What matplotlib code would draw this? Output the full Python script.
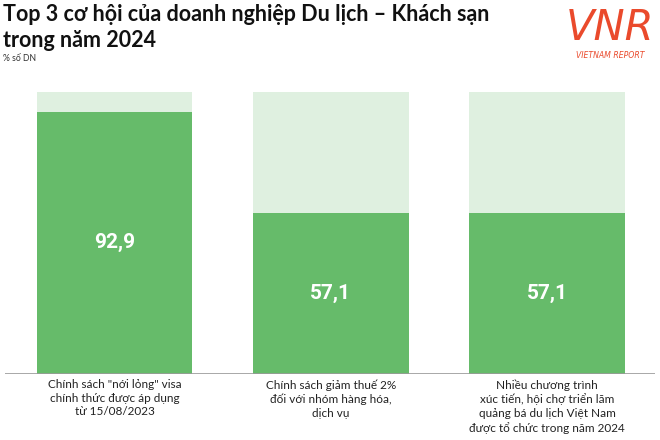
import matplotlib.pyplot as plt

# data
categories = [
    'Chính sách "nới lỏng" visa\nchính thức được áp dụng\ntừ 15/08/2023',
    'Chính sách giảm thuế 2%\nđối với nhóm hàng hóa,\ndịch vụ',
    'Nhiều chương trình\nxúc tiến, hội chợ triển lãm\nquảng bá du lịch Việt Nam\nđược tổ chức trong năm 2024',
]
values = [92.9, 57.1, 57.1]
value_labels = ["92,9", "57,1", "57,1"]
full = [100, 100, 100]

green = "#66bb6a"
light = "#dff0e0"

fig = plt.figure(figsize=(6.6, 4.4), dpi=100)
W, H = 660, 440

# axes placed in pixel terms: x 5..655, y 91.7..374
ax = fig.add_axes([5 / W, (H - 374) / H, 650 / W, (374 - 91.7) / H])
x = range(len(values))
ax.bar(x, full, width=0.719, color=light, zorder=1)
ax.bar(x, values, width=0.719, color=green, zorder=2)
ax.set_xlim(-0.506, 2.499)
ax.set_ylim(0, 100)
ax.axhline(0, color="#9a9a9a", lw=1.2, zorder=3)
for s in ax.spines.values():
    s.set_visible(False)
ax.set_xticks([])
ax.set_yticks([])

for i, (v, lab) in enumerate(zip(values, value_labels)):
    ax.text(i, v / 2, lab, ha="center", va="center", color="white",
            fontsize=15, fontweight="bold", family="Roboto")

for i, c in enumerate(categories):
    ax.text(i, -1.8, c, ha="center", va="top", fontsize=8.5,
            family="Lato", color="#222222", linespacing=1.3)

# title
fig.text(3 / W, 1 - 21 / H, "Top 3 cơ hội của doanh nghiệp Du lịch – Khách sạn",
         fontsize=15.5, fontweight="bold", family="Lato", color="#111111",
         va="baseline")
fig.text(3 / W, 1 - 47 / H, "trong năm 2024",
         fontsize=15.5, fontweight="bold", family="Lato", color="#111111",
         va="baseline")
fig.text(3 / W, 1 - 61 / H, "% số DN", fontsize=6.2, family="Lato",
         color="#333333", va="baseline")

# logo
red = "#ea4a2c"
fig.text(610 / W, 1 - 40 / H, "VNR", fontsize=30, style="italic",
         family="DejaVu Sans", color=red, ha="center", va="baseline")
fig.text(610 / W, 1 - 58 / H, "VIETNAM REPORT", fontsize=5.6, style="italic",
         family="DejaVu Sans", color=red, ha="center", va="baseline")

fig.savefig("out.png", dpi=100)
